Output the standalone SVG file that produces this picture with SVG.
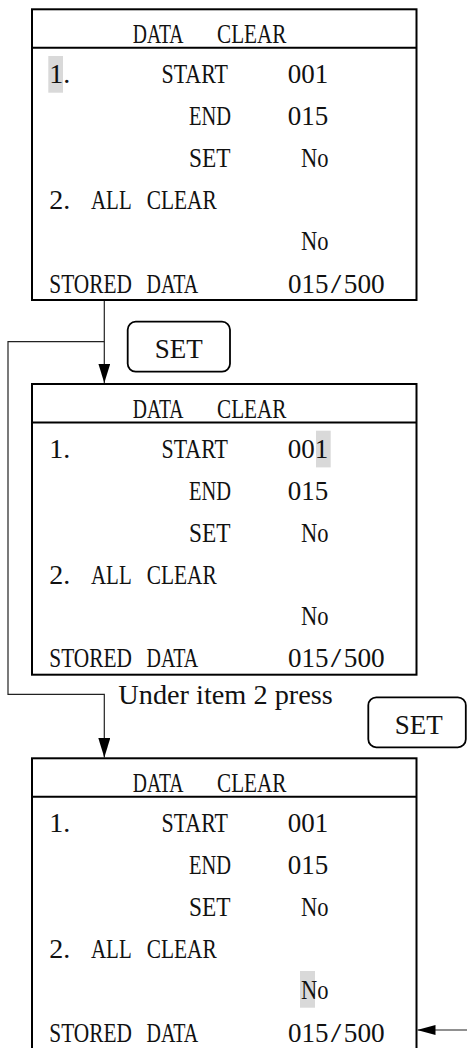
<svg xmlns="http://www.w3.org/2000/svg" width="467" height="1048" viewBox="0 0 467 1048">
<style>
.box{fill:#fff;stroke:#000;stroke-width:2}
.div{stroke:#000;stroke-width:2}
.hl{fill:#d9d9d9}
.t{font-family:"Liberation Serif","Times New Roman",serif;font-size:28px;fill:#111}
.b{font-family:"Liberation Serif","Times New Roman",serif;font-size:27px;fill:#111}
.lbl{font-family:"Liberation Serif","Times New Roman",serif;font-size:28.3px;fill:#111}
.btn{fill:#fff;stroke:#000;stroke-width:1.8}
.conn{fill:none;stroke:#222;stroke-width:1.2}
</style>
<defs>
<marker id="ah" markerUnits="userSpaceOnUse" markerWidth="20" markerHeight="12" refX="19.5" refY="6" orient="auto">
<path d="M0,0 L19.5,6 L0,12 z" fill="#000"/>
</marker>
<marker id="ahs" markerUnits="userSpaceOnUse" markerWidth="18" markerHeight="10" refX="18" refY="5" orient="auto">
<path d="M0,0 L18,5 L0,10 z" fill="#000"/>
</marker>
</defs>

<g id="connectors">
<path class="conn" d="M104.3,300 V383" marker-end="url(#ah)"/>
<path class="conn" d="M104.3,341.7 H8 V694.3 H104.3 V757.5" marker-end="url(#ah)"/>
<path class="conn" d="M467,1030 H417.5" marker-end="url(#ahs)"/>
</g>

<g id="screen1">
<rect class="box" x="32" y="9.3" width="384.5" height="290.7"/>
<line class="div" x1="32" y1="47.7" x2="416.5" y2="47.7"/>
<rect class="hl" x="48.3" y="56" width="14.7" height="36.7"/>
<text class="t" transform="translate(132.7,43) scale(0.702,1)">DATA</text>
<text class="t" transform="translate(217,43) scale(0.757,1)">CLEAR</text>
<text class="t" transform="translate(49.3,83.3)">1</text>
<text class="t" transform="translate(63.2,83.3)">.</text>
<text class="t" transform="translate(161.5,83.3) scale(0.784,1)">START</text>
<text class="t" transform="translate(287.7,83.3) scale(0.964,1)">001</text>
<text class="t" transform="translate(189,125) scale(0.73,1)">END</text>
<text class="t" transform="translate(287.7,125) scale(0.964,1)">015</text>
<text class="t" transform="translate(189,167.3) scale(0.833,1)">SET</text>
<text class="t" transform="translate(301,167.3) scale(0.804,1)">No</text>
<text class="t" transform="translate(49.3,209)">2</text>
<text class="t" transform="translate(63.2,209)">.</text>
<text class="t" transform="translate(91,209) scale(0.748,1)">ALL</text>
<text class="t" transform="translate(146.7,209) scale(0.763,1)">CLEAR</text>
<text class="t" transform="translate(301,250.3) scale(0.804,1)">No</text>
<text class="t" transform="translate(49.3,292.7) scale(0.762,1)">STORED</text>
<text class="t" transform="translate(146.6,292.7) scale(0.713,1)">DATA</text>
<text class="t" transform="translate(288,292.7) scale(0.964,1)">015</text>
<text class="t" transform="translate(336,292.7) scale(1.35,1)" text-anchor="middle">/</text>
<text class="t" transform="translate(343.8,292.7) scale(0.976,1)">500</text>
</g>

<g id="set-button-1">
<rect class="btn" x="127.7" y="321.7" width="102.3" height="50" rx="8"/>
<text class="b" x="178.8" y="357.8" text-anchor="middle">SET</text>
</g>

<g id="screen2">
<rect class="box" x="32" y="384" width="384.5" height="290.7"/>
<line class="div" x1="32" y1="422.4" x2="416.5" y2="422.4"/>
<rect class="hl" x="316" y="430.7" width="14.7" height="36.7"/>
<g transform="translate(0,374.7)">
<text class="t" transform="translate(132.7,43) scale(0.702,1)">DATA</text>
<text class="t" transform="translate(217,43) scale(0.757,1)">CLEAR</text>
<text class="t" transform="translate(49.3,83.3)">1</text>
<text class="t" transform="translate(63.2,83.3)">.</text>
<text class="t" transform="translate(161.5,83.3) scale(0.784,1)">START</text>
<text class="t" transform="translate(287.7,83.3) scale(0.964,1)">001</text>
<text class="t" transform="translate(189,125) scale(0.73,1)">END</text>
<text class="t" transform="translate(287.7,125) scale(0.964,1)">015</text>
<text class="t" transform="translate(189,167.3) scale(0.833,1)">SET</text>
<text class="t" transform="translate(301,167.3) scale(0.804,1)">No</text>
<text class="t" transform="translate(49.3,209)">2</text>
<text class="t" transform="translate(63.2,209)">.</text>
<text class="t" transform="translate(91,209) scale(0.748,1)">ALL</text>
<text class="t" transform="translate(146.7,209) scale(0.763,1)">CLEAR</text>
<text class="t" transform="translate(301,250.3) scale(0.804,1)">No</text>
<text class="t" transform="translate(49.3,292.7) scale(0.762,1)">STORED</text>
<text class="t" transform="translate(146.6,292.7) scale(0.713,1)">DATA</text>
<text class="t" transform="translate(288,292.7) scale(0.964,1)">015</text>
<text class="t" transform="translate(336,292.7) scale(1.35,1)" text-anchor="middle">/</text>
<text class="t" transform="translate(343.8,292.7) scale(0.976,1)">500</text>
</g>
</g>

<g id="label-under-item-2">
<text class="lbl" x="118.3" y="704.3">Under item 2 press</text>
</g>

<g id="set-button-2">
<rect class="btn" x="368.3" y="697.3" width="97.5" height="50" rx="8"/>
<text class="b" x="418.8" y="734" text-anchor="middle">SET</text>
</g>

<g id="screen3">
<rect class="box" x="32" y="758.3" width="384.5" height="290.7"/>
<line class="div" x1="32" y1="796.7" x2="416.5" y2="796.7"/>
<rect class="hl" x="300" y="971" width="15" height="36.7"/>
<g transform="translate(0,749)">
<text class="t" transform="translate(132.7,43) scale(0.702,1)">DATA</text>
<text class="t" transform="translate(217,43) scale(0.757,1)">CLEAR</text>
<text class="t" transform="translate(49.3,83.3)">1</text>
<text class="t" transform="translate(63.2,83.3)">.</text>
<text class="t" transform="translate(161.5,83.3) scale(0.784,1)">START</text>
<text class="t" transform="translate(287.7,83.3) scale(0.964,1)">001</text>
<text class="t" transform="translate(189,125) scale(0.73,1)">END</text>
<text class="t" transform="translate(287.7,125) scale(0.964,1)">015</text>
<text class="t" transform="translate(189,167.3) scale(0.833,1)">SET</text>
<text class="t" transform="translate(301,167.3) scale(0.804,1)">No</text>
<text class="t" transform="translate(49.3,209)">2</text>
<text class="t" transform="translate(63.2,209)">.</text>
<text class="t" transform="translate(91,209) scale(0.748,1)">ALL</text>
<text class="t" transform="translate(146.7,209) scale(0.763,1)">CLEAR</text>
<text class="t" transform="translate(301,250.3) scale(0.804,1)">No</text>
<text class="t" transform="translate(49.3,292.7) scale(0.762,1)">STORED</text>
<text class="t" transform="translate(146.6,292.7) scale(0.713,1)">DATA</text>
<text class="t" transform="translate(288,292.7) scale(0.964,1)">015</text>
<text class="t" transform="translate(336,292.7) scale(1.35,1)" text-anchor="middle">/</text>
<text class="t" transform="translate(343.8,292.7) scale(0.976,1)">500</text>
</g>
</g>
</svg>
